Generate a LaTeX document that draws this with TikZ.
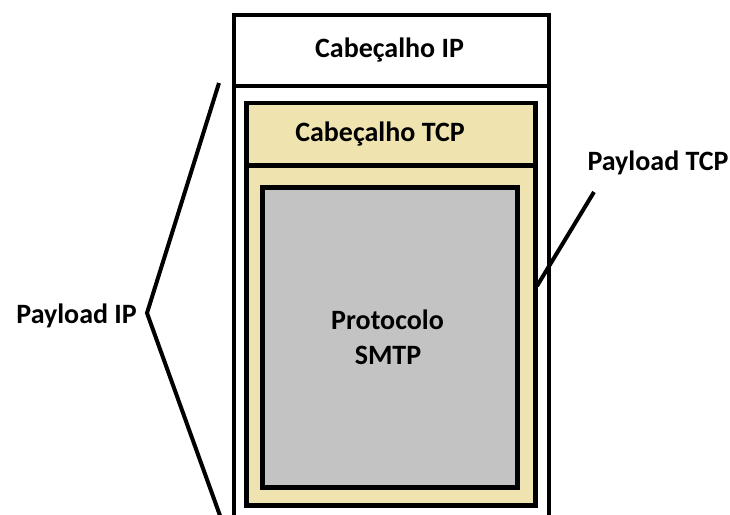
\documentclass[tikz,border=0pt]{standalone}
\usepackage{fontspec}
\setmainfont{Carlito}
\usetikzlibrary{positioning}
\definecolor{tcptan}{RGB}{239,228,176}
\definecolor{smtpgray}{RGB}{195,195,195}
\tikzstyle{layer} = [rectangle, draw=black, line width=4.5pt, inner sep=0pt, text centered, font=\fontsize{28}{35}\selectfont\bfseries]
\tikzstyle{iplayer} = [layer, fill=white, minimum width=315pt]
\tikzstyle{tcplayer} = [layer, fill=tcptan, minimum width=289pt]
\tikzstyle{applayer} = [layer, fill=smtpgray, minimum width=255pt, minimum height=300pt, align=center]
\tikzstyle{label} = [font=\fontsize{28}{35}\selectfont\bfseries, inner sep=0pt]
\tikzstyle{bracket} = [line width=4pt]

\begin{document}
\begin{tikzpicture}[x=1pt, y=-1pt]
		\useasboundingbox (0,0) rectangle (730,514);
		\clip (0,0) rectangle (730,514);
		% IP datagram
		\node (ippayload) [iplayer, minimum height=474pt] at (391.5,323) {};
		\node (ipheader) [iplayer, minimum height=71pt] at (391.5,50.5) {\hspace*{-4pt}Cabeçalho IP};
		% TCP segment
		\node (tcppayload) [tcplayer, minimum height=340pt] at (391,335.5) {};
		\node (tcpheader) [tcplayer, minimum height=62.5pt] at (391,134.25) {Cabeçalho TCP\hspace*{22pt}};
		% application data
		\node (smtp) [applayer] at (390,337.5) {\hspace*{-5pt}Protocolo\\SMTP\hspace*{4pt}};
		% labels
		\node (iplabel) [label, anchor=east] at (137,316) {Payload IP};
		\node (tcplabel) [label] at (658,163) {Payload TCP};
		\coordinate (iptop) at (219,83);
		\coordinate (ipbottom) at (227,535);
		\coordinate (iptip) at (147,313);
		\coordinate (tcptip) at (594,192);
		\coordinate (tcpend) at (537,286);
		\draw [bracket] (iptop) -- (iptip) -- (ipbottom);
		\draw [bracket] (tcptip) -- (tcpend);
	\end{tikzpicture}
\end{document}
